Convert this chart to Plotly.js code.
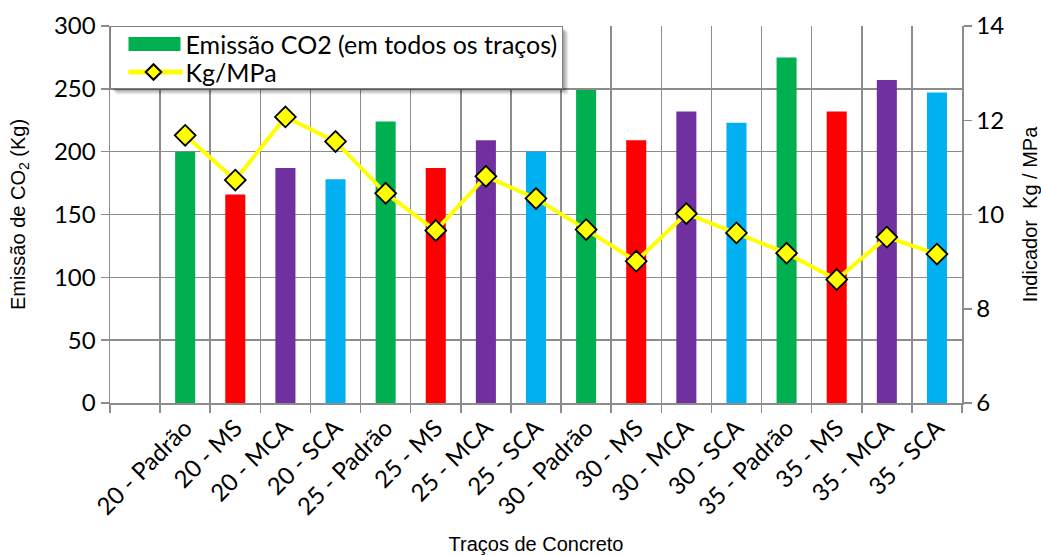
<!DOCTYPE html>
<html><head><meta charset="utf-8">
<script src="https://cdn.plot.ly/plotly-3.0.1.min.js"></script>
<style>html,body{margin:0;padding:0;background:#fff}#chart{width:1041px;height:555px}</style>
</head><body><div id="chart"></div>
<script>
const categories = ["20 - Padrão","20 - MS","20 - MCA","20 - SCA","25 - Padrão","25 - MS","25 - MCA","25 - SCA","30 - Padrão","30 - MS","30 - MCA","30 - SCA","35 - Padrão","35 - MS","35 - MCA","35 - SCA"];
const axisCategories = [" "].concat(categories);
const emissaoCO2 = [200, 166, 187, 178, 224, 187, 209, 200, 249, 209, 232, 223, 275, 232, 257, 247];
const kgPorMPa = [11.68, 10.73, 12.07, 11.55, 10.45, 9.66, 10.81, 10.34, 9.68, 9.01, 10.02, 9.61, 9.18, 8.62, 9.52, 9.16];
const seriesNames = ["Emissão CO2 (em todos os traços)", "Kg/MPa"];

const palette = {"Padrão":"#00B050","MS":"#FF0000","MCA":"#7030A0","SCA":"#00B0F0"};
const barColors = categories.map(c => palette[c.split(" - ")[1]]);

const gridC = "#8c8c8c";
const tickFont = {family:"Lato, 'Liberation Sans', sans-serif", size:24, color:"#000"};
const titleFont = {family:"'Liberation Sans', Arial, sans-serif", size:20, color:"#000"};

const traces = [
  {type:"bar", x:categories, y:emissaoCO2, name:seriesNames[0], width:0.4,
   marker:{color:barColors, line:{width:0}}, yaxis:"y"},
  {type:"scatter", mode:"lines+markers", x:categories, y:kgPorMPa, name:seriesNames[1], yaxis:"y2",
   line:{color:"#FFFF00", width:4},
   marker:{symbol:"diamond", size:16, color:"#FFFF00", line:{color:"#000", width:1.8}}}
];

const L = 110, R = 962, T = 26, B = 403;
const W = 1041, H = 555;

const layout = {
  width:W, height:H,
  margin:{l:L, r:W-R, t:T, b:H-B, pad:0},
  paper_bgcolor:"#fff", plot_bgcolor:"#fff",
  showlegend:true,
  xaxis:{type:"category", categoryorder:"array", categoryarray:axisCategories,
    range:[-0.5, 16.5], tickson:"boundaries", ticks:"outside", ticklen:8, tickcolor:gridC, tickwidth:1.5,
    showgrid:true, gridcolor:gridC, gridwidth:1.5,
    showline:true, linecolor:gridC, linewidth:1.5,
    tickangle:-45, tickfont:tickFont, automargin:false,
    title:{text:"Traços de Concreto", font:titleFont, standoff:18}},
  yaxis:{range:[0,300], dtick:50, tick0:0, ticks:"outside", ticklen:8, tickcolor:gridC, tickwidth:1.5,
    showgrid:true, gridcolor:gridC, gridwidth:1.5, zeroline:false,
    showline:true, linecolor:gridC, linewidth:1.5,
    tickfont:tickFont, automargin:false,
    title:{text:"Emissão de CO<sub>2</sub> (Kg)", font:titleFont, standoff:23}},
  yaxis2:{overlaying:"y", side:"right", range:[6,14], dtick:2, tick0:6,
    ticks:"outside", ticklen:8, tickcolor:gridC, tickwidth:1.5,
    showgrid:false, zeroline:false, showline:true, linecolor:gridC, linewidth:1.5,
    tickfont:tickFont, automargin:false,
    title:{text:"Indicador  Kg / MPa", font:titleFont, standoff:20}},
  legend:{x:0, y:1, xanchor:"left", yanchor:"top", xref:"paper", yref:"paper",
    bgcolor:"#fff", bordercolor:"#7f7f7f", borderwidth:1,
    font:{family:"Lato, 'Liberation Sans', sans-serif", size:25, color:"#000"},
    tracegroupgap:0, itemsizing:"constant"}
};

// legend box geometry (px, relative to the box's top-left)
const LEG_W = 452, LEG_H = 62;
const ROW_Y = [18, 46];
const TEXT_X = 75;
const PATCH = [18, 70, 14];   // bar patch left, right, height
const LINE = [18, 72, 43];    // line left, right, marker centre

function tightenLegend(gd) {
  try {
    const leg = gd.querySelector(".legend");
    const bg = leg.querySelector(".bg");
    const legRect = bg.getBoundingClientRect();
    const L0 = legRect.left;
    bg.setAttribute("height", LEG_H);
    bg.setAttribute("width", LEG_W);
    const sb = leg.querySelector(".scrollbox");
    if (sb) sb.removeAttribute("clip-path");
    leg.querySelectorAll("clipPath rect").forEach(r => { r.setAttribute("width", LEG_W); r.setAttribute("height", LEG_H); });
    document.querySelectorAll("clipPath[id^='legend'] rect").forEach(r => { r.setAttribute("width", LEG_W); r.setAttribute("height", LEG_H); });
    const items = leg.querySelectorAll(".traces");
    items.forEach((g, i) => {
      const m = /translate\(([-\d.]+)[ ,]+([-\d.]+)\)/.exec(g.getAttribute("transform") || "");
      const x = m ? m[1] : 0;
      g.setAttribute("transform", "translate(" + x + "," + ROW_Y[i] + ")");
      const txt = g.querySelector(".legendtext");
      if (txt) {
        const tr = txt.getBoundingClientRect();
        const ox = parseFloat(txt.getAttribute("x") || 0);
        txt.setAttribute("x", ox + (L0 + TEXT_X - tr.left));
      }
      if (i === 0) {
        const bar = g.querySelector(".legendpoints path") || g.querySelector("path.legendundefined");
        if (!bar) return;
        const wrap = bar.parentNode;
        const M = wrap.parentNode.getScreenCTM();
        const r = bar.getBoundingClientRect();
        const lx = r.left - M.e, rx = r.right - M.e;
        const cy = (r.top + r.bottom) / 2 - M.f;
        const sx = (PATCH[1] - PATCH[0]) / (rx - lx);
        const sy = PATCH[2] / (r.bottom - r.top);
        const tx = (L0 + PATCH[0] - M.e) - sx * lx;
        const ty = cy - sy * cy;
        wrap.setAttribute("transform", "translate(" + tx + "," + ty + ") scale(" + sx + "," + sy + ")");
      } else {
        const line = g.querySelector("path.js-line") || g.querySelector(".legendlines path");
        if (line) {
          const M = line.parentNode.getScreenCTM();
          const r = line.getBoundingClientRect();
          const lx = r.left - M.e, rx = r.right - M.e;
          const sx = (LINE[1] - LINE[0]) / Math.max(1, rx - lx);
          const tx = (L0 + LINE[0] - M.e) - sx * lx;
          const old = line.getAttribute("transform") || "";
          line.setAttribute("transform", "translate(" + tx + ",0) scale(" + sx + ",1) " + old);
          line.setAttribute("vector-effect", "non-scaling-stroke");
        }
        const sym = g.querySelector(".legendsymbols") || g.querySelector("path.scatterpts");
        if (sym) {
          const r = sym.getBoundingClientRect();
          const c = (r.left + r.right) / 2;
          const old = sym.getAttribute("transform") || "";
          sym.setAttribute("transform", "translate(" + (L0 + LINE[2] - c) + ",0) " + old);
        }
      }
    });
  } catch (e) { console.log(e); }
}

Plotly.newPlot("chart", traces, layout, {displayModeBar:false, staticPlot:true}).then(gd => {
  const bg = gd.querySelector(".legend .bg");
  if (!bg) return gd;
  const bb = bg.getBoundingClientRect();
  const cb = gd.getBoundingClientRect();
  const fs = gd._fullLayout._size;
  const toX = p => (p - cb.left - fs.l) / fs.w;
  const toY = p => 1 - (p - cb.top - fs.t) / fs.h;
  const left = bb.left, right = bb.left + LEG_W, top = bb.top, bottom = bb.top + LEG_H;
  const shapes = [];
  [[6,0.06],[5,0.07],[4,0.08],[3,0.09],[2,0.1]].forEach(([o,a]) => {
    shapes.push({type:"rect", xref:"paper", yref:"paper",
      x0:toX(left + o), x1:toX(right + o), y0:toY(bottom + o), y1:toY(top + o),
      fillcolor:"rgba(0,0,0," + a + ")", line:{width:0}, layer:"above"});
  });
  return Plotly.relayout(gd, {shapes:shapes});
}).then(() => { tightenLegend(document.getElementById("chart")); });
</script>
</body></html>
